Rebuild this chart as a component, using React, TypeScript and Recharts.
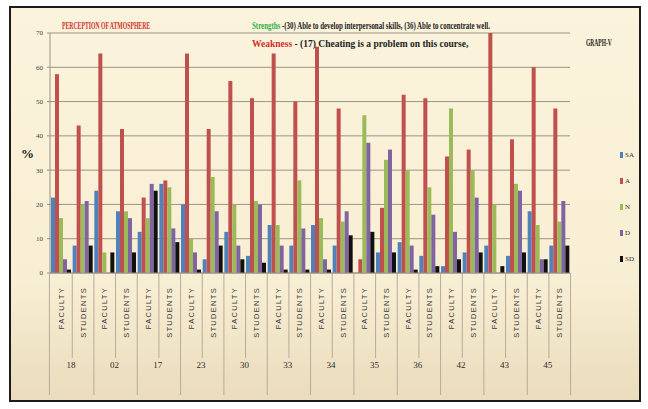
import { useLayoutEffect, useRef, useState } from "react"
import { BarChart, Bar, XAxis, YAxis, CartesianGrid, Legend } from "recharts"

const GROUPS = ["18", "02", "17", "23", "30", "33", "34", "35", "36", "42", "43", "45"]
const ROLES = ["FACULTY", "STUDENTS"]
const Y_TICKS = [0, 10, 20, 30, 40, 50, 60, 70]

const SA = [22, 8, 24, 18, 12, 26, 20, 4, 12, 5, 14, 8, 14, 8, 0, 6, 9, 5, 2, 6, 8, 5, 18, 8]
const A = [58, 43, 64, 42, 22, 27, 64, 42, 56, 51, 64, 50, 66, 48, 4, 19, 52, 51, 34, 36, 70, 39, 60, 48]
const N = [16, 20, 6, 18, 16, 25, 10, 28, 20, 21, 14, 27, 16, 15, 46, 33, 30, 25, 48, 30, 20, 26, 14, 15]
const D = [4, 21, 0, 16, 26, 13, 6, 18, 8, 20, 8, 13, 4, 18, 38, 36, 8, 17, 12, 22, 0, 24, 4, 21]
const SD = [1, 8, 6, 6, 24, 9, 1, 8, 4, 3, 1, 1, 1, 11, 12, 6, 1, 2, 4, 6, 2, 6, 4, 8]

const SERIES = [
  { key: "SA", values: SA, color: "#4f81bd" },
  { key: "A", values: A, color: "#c0504d" },
  { key: "N", values: N, color: "#9bbb59" },
  { key: "D", values: D, color: "#8064a2" },
  { key: "SD", values: SD, color: "#111111" },
]

const data = GROUPS.flatMap((g, gi) =>
  ROLES.map((role, ri) => {
    const i = gi * 2 + ri
    const row: Record<string, any> = { name: `${g}-${role}`, group: g, role }
    SERIES.forEach((s) => {
      row[s.key] = s.values[i]
    })
    return row
  })
)

const PLOT_LEFT = 50
const PLOT_RIGHT = 598
const CAT_W = (PLOT_RIGHT - PLOT_LEFT) / data.length
const SERIF = "'Liberation Serif', 'DejaVu Serif', serif"
const LINE = "#b5ab98"
const RED = "#d0302a"
const GREEN = "#2fb24a"

// squeezes a line of text horizontally so it fills the given width (the source uses a condensed face)
function FitText({ x, y, width, color = "#222", size = 11, children }: any) {
  const ref = useRef<HTMLDivElement>(null)
  const [k, setK] = useState(1)
  useLayoutEffect(() => {
    if (ref.current) {
      const w = ref.current.scrollWidth
      if (w > 0) setK(width / w)
    }
  }, [width])
  return (
    <div
      ref={ref}
      style={{
        position: "absolute",
        left: x,
        top: y,
        whiteSpace: "nowrap",
        fontFamily: SERIF,
        fontWeight: "bold",
        fontSize: size,
        lineHeight: "12px",
        color,
        transform: `scaleX(${k})`,
        transformOrigin: "0 0",
      }}
    >
      {children}
    </div>
  )
}

function CategoryTick(props: any) {
  const { x, y, index } = props
  const row = data[index] || {}
  const isStudents = row.role === "STUDENTS"
  const right = x + CAT_W / 2
  return (
    <g>
      {index === 0 && <line x1={x - CAT_W / 2} x2={x - CAT_W / 2} y1={y} y2={y + 122} stroke={LINE} />}
      <line x1={right} x2={right} y1={y} y2={y + (isStudents ? 122 : 85)} stroke={LINE} />
      <text
        x={x + 3}
        y={y + 14}
        transform={`rotate(-90 ${x + 3} ${y + 14})`}
        textAnchor="end"
        fontSize={7.5}
        letterSpacing={1.3}
        fill="#3a3a3a"
        fontFamily="'Liberation Sans', Arial, sans-serif"
      >
        {row.role}
      </text>
      {isStudents && (
        <text x={x - CAT_W / 2} y={y + 95} textAnchor="middle" fontSize={9} fill="#2a2a2a" fontFamily={SERIF}>
          {row.group}
        </text>
      )}
    </g>
  )
}

function LegendContent() {
  return (
    <div style={{ display: "flex", flexDirection: "column", gap: 19 }}>
      {SERIES.map((s) => (
        <div key={s.key} style={{ display: "flex", alignItems: "center", height: 7 }}>
          <span style={{ width: 3, height: 6, background: s.color, marginRight: 2, display: "inline-block" }} />
          <span style={{ fontSize: 7, fontFamily: SERIF, color: "#333" }}>{s.key}</span>
        </div>
      ))}
    </div>
  )
}

export default function App() {
  return (
    <div style={{ position: "absolute", left: 0, top: 0, width: 648, height: 409, background: "#fff" }}>
      <div
        style={{
          position: "absolute",
          left: 9,
          top: 6,
          width: 628,
          height: 392,
          border: "2px solid #1c1c1c",
          background: "linear-gradient(180deg, #fbf3dc 0%, #f8eed3 70%, #eadcbc 100%)",
        }}
      />
      <div style={{ position: "absolute", left: 0, top: 0 }}>
        <BarChart
          width={648}
          height={409}
          data={data}
          margin={{ top: 33, right: 648 - PLOT_RIGHT, bottom: 9, left: 0 }}
          barGap={0}
          barCategoryGap={1}
        >
          <CartesianGrid vertical={false} stroke="#9a9488" strokeWidth={1} />
          <XAxis
            dataKey="name"
            interval={0}
            height={127}
            tickSize={0}
            tickMargin={0}
            tickLine={false}
            axisLine={{ stroke: "#9a9488" }}
            tick={<CategoryTick />}
          />
          <YAxis
            width={PLOT_LEFT}
            domain={[0, 70]}
            ticks={Y_TICKS}
            tickSize={3}
            tickMargin={4}
            tickLine={{ stroke: "#9a9488" }}
            axisLine={{ stroke: "#9a9488" }}
            tick={{ fontSize: 7, fill: "#444", fontFamily: SERIF }}
          />
          <Legend
            layout="vertical"
            align="right"
            verticalAlign="top"
            content={<LegendContent />}
            wrapperStyle={{ left: 620, top: 151, width: 28 }}
          />
          {SERIES.map((s) => (
            <Bar key={s.key} dataKey={s.key} fill={s.color} barSize={4} isAnimationActive={false} />
          ))}
        </BarChart>
      </div>
      <FitText x={62} y={19} width={88} color={RED}>
        PERCEPTION OF ATMOSPHERE
      </FitText>
      <FitText x={252} y={19} width={238}>
        <span style={{ color: GREEN }}>Strengths</span> -(30) Able to develop interpersonal skills, (36) Able to
        concentrate well.
      </FitText>
      <FitText x={252} y={37} width={216}>
        <span style={{ color: RED }}>Weakness</span> - (17) Cheating is a problem on this course,
      </FitText>
      <FitText x={586} y={37} width={26} size={10}>
        GRAPH-V
      </FitText>
      <div
        style={{
          position: "absolute",
          left: 21,
          top: 146,
          fontFamily: SERIF,
          fontWeight: "bold",
          fontSize: 13,
          color: "#222",
        }}
      >
        %
      </div>
    </div>
  )
}
